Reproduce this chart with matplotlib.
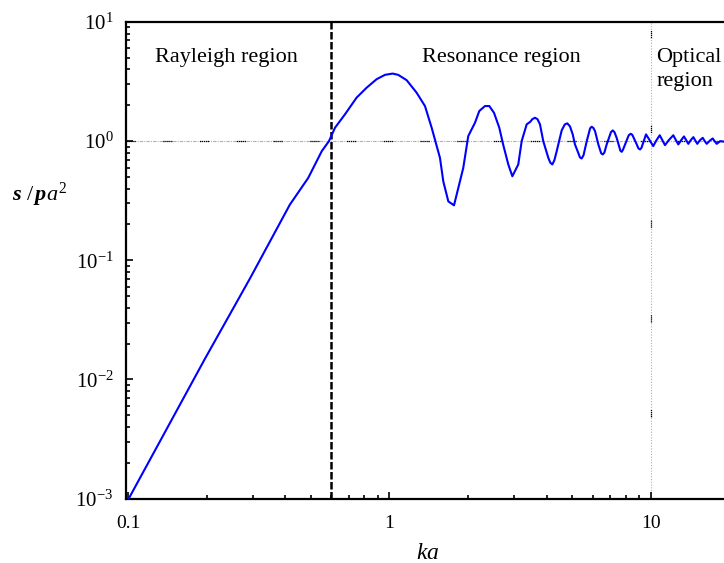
import numpy as np
import matplotlib
matplotlib.use("Agg")
import matplotlib.pyplot as plt
from matplotlib.ticker import FixedLocator, FuncFormatter, LogLocator, NullFormatter

# ── Fonts ─────────────────────────────────────────────────────────────────────
plt.rcParams["font.family"] = ["Liberation Serif", "DejaVu Serif"]
plt.rcParams["mathtext.fontset"] = "custom"
plt.rcParams["mathtext.rm"] = "Liberation Serif"
plt.rcParams["mathtext.it"] = "Liberation Serif:italic"
plt.rcParams["mathtext.bf"] = "Liberation Serif:bold:italic"

# ── Data ──────────────────────────────────────────────────────────────────────
ka = [
    0.100, 0.197, 0.293, 0.416, 0.489, 0.551, 0.587, 0.619, 0.676, 0.749,
    0.818, 0.893, 0.961, 1.028, 1.080, 1.163, 1.270, 1.367, 1.450, 1.560,
    1.606, 1.679, 1.765, 1.915, 2.001, 2.123, 2.205, 2.318, 2.408, 2.510,
    2.630, 2.720, 2.847, 2.950, 3.108, 3.203, 3.347, 3.450, 3.520, 3.600,
    3.680, 3.763, 3.873, 4.050, 4.120, 4.195, 4.270, 4.360, 4.555, 4.680,
    4.786, 4.900, 5.020, 5.120, 5.270, 5.350, 5.430, 5.520, 5.680, 5.850,
    5.930, 6.020, 6.110, 6.290, 6.450, 6.540, 6.630, 6.770, 7.030, 7.140,
    7.250, 7.390, 7.640, 7.730, 7.820, 7.960, 8.220, 8.360, 8.480, 8.800,
    8.950, 9.080, 9.200, 9.570, 9.850, 10.20, 10.50, 10.80, 11.05, 11.31,
    11.70, 12.17, 12.45, 12.72, 13.05, 13.37, 13.63, 13.89, 14.20, 14.52,
    14.78, 15.03, 15.40, 15.77, 16.05, 16.33, 16.80, 17.22, 17.50, 17.84,
    18.40, 19.00, 20.00,
]
rcs = [
    0.00097, 0.0149, 0.0705, 0.293, 0.491, 0.824, 1.000, 1.295, 1.680, 2.320,
    2.810, 3.310, 3.600, 3.690, 3.600, 3.250, 2.550, 1.970, 1.295, 0.723,
    0.460, 0.312, 0.289, 0.596, 1.102, 1.426, 1.789, 1.970, 1.970, 1.730,
    1.295, 0.938, 0.637, 0.507, 0.637, 1.000, 1.383, 1.450, 1.530, 1.571,
    1.530, 1.383, 1.000, 0.723, 0.660, 0.637, 0.690, 0.824, 1.230, 1.380,
    1.410, 1.330, 1.139, 0.938, 0.797, 0.730, 0.715, 0.760, 1.000, 1.280,
    1.320, 1.290, 1.214, 0.938, 0.790, 0.773, 0.800, 0.938, 1.190, 1.230,
    1.190, 1.066, 0.830, 0.813, 0.850, 0.938, 1.120, 1.152, 1.130, 0.950,
    0.870, 0.851, 0.880, 1.139, 1.030, 0.908, 1.020, 1.120, 1.020, 0.925,
    1.020, 1.120, 1.020, 0.938, 1.020, 1.095, 1.020, 0.949, 1.020, 1.080,
    1.010, 0.949, 1.020, 1.066, 1.000, 0.949, 1.010, 1.053, 1.000, 0.949,
    1.000, 0.990, 1.030,
]

RAYLEIGH_EDGE = 0.6
OPTICAL_EDGE = 10

# ── Figure ────────────────────────────────────────────────────────────────────
W, H = 724, 563
fig = plt.figure(figsize=(W / 100, H / 100), dpi=100)

x_left = 0.0983
x_right = 20.0
ax_left_px, ax_top_px, ax_bot_px = 126, 22, 498.5
ax_right_px = 389.5 + 261.5 * np.log10(x_right)
ax = fig.add_axes([ax_left_px / W, (H - ax_bot_px) / H,
                   (ax_right_px - ax_left_px) / W, (ax_bot_px - ax_top_px) / H])
ax.set_xscale("log")
ax.set_yscale("log")
ax.set_xlim(x_left, x_right)
ax.set_ylim(1e-3, 1e1)

# reference lines
ax.axhline(1.0, color="#b0b0b0", lw=0.8, ls=(0, (3, 1, 1, 1)), zorder=1)
ax.axhline(1.0, color="black", lw=0.9,
           ls=(0, (1, 0.6, 1, 0.6, 1, 0.6, 1, 0.6, 1, 22)), zorder=1)
ax.axvline(OPTICAL_EDGE, color="#b0b0b0", lw=0.8, ls=(0, (1, 1.5)), zorder=1)
ax.axvline(OPTICAL_EDGE, color="black", lw=0.9,
           ls=(10, (1, 0.6, 1, 0.6, 1, 0.6, 1, 70)), zorder=1)
ax.axvline(RAYLEIGH_EDGE, color="black", lw=1.8, ls=(0, (3, 1)), zorder=1)

ax.plot(ka, rcs, color="#0000ff", lw=1.5, zorder=3)

# region labels
ax.text(0.239, 5.0, "Rayleigh region", fontsize=16, ha="center", va="center")
ax.text(2.69, 5.0, "Resonance region", fontsize=16, ha="center", va="center")
ax.text(10.5, 5.0, "Optical", fontsize=16, ha="left", va="center")
ax.text(10.5, 3.15, "region", fontsize=16, ha="left", va="center")

# axes styling
for side in ("left", "bottom", "top"):
    ax.spines[side].set_linewidth(1.6)
ax.spines["right"].set_visible(False)

ax.xaxis.set_major_locator(FixedLocator([0.1, 1, 10]))
ax.xaxis.set_major_formatter(FuncFormatter(lambda v, p: f"{v:g}"))
ax.xaxis.set_minor_locator(LogLocator(base=10, subs=np.arange(2, 10)))
ax.xaxis.set_minor_formatter(NullFormatter())
ax.yaxis.set_major_locator(FixedLocator([1e-3, 1e-2, 1e-1, 1e0, 1e1]))
ax.yaxis.set_major_formatter(
    FuncFormatter(lambda v, p: r"$10^{%d}$" % int(round(np.log10(v)))))
ax.yaxis.set_minor_locator(LogLocator(base=10, subs=np.arange(2, 10)))
ax.yaxis.set_minor_formatter(NullFormatter())

ax.tick_params(which="both", direction="in", top=False, right=False, width=1.2)
ax.tick_params(which="major", length=5)
ax.tick_params(which="minor", length=3)
ax.tick_params(axis="x", which="major", pad=12, labelsize=14)
ax.tick_params(axis="y", which="major", pad=9, labelsize=15)

ax.set_xlabel(r"$ka$", fontsize=17, labelpad=8)
fig.text(12 / W, 1 - 195 / H, r"$\mathbf{s}\ /\,\mathbf{p}a^{2}$",
         fontsize=16, ha="left", va="center")

fig.savefig("out.png", dpi=100)
